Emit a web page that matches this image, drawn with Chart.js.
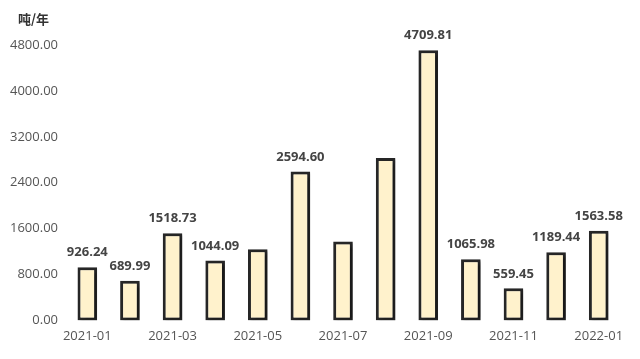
<!DOCTYPE html>
<html>
<head>
<meta charset="utf-8">
<script src="https://cdn.jsdelivr.net/npm/chart.js@4"></script>
<style>
  html, body { margin: 0; padding: 0; background: #fff; }
  #wrap { width: 640px; height: 359px; position: relative; }
</style>
</head>
<body>
<div id="wrap"><canvas id="c"></canvas></div>
<script>
// monthly output, tons per year
var months = ['2021-01', '2021-02', '2021-03', '2021-04', '2021-05', '2021-06', '2021-07',
  '2021-08', '2021-09', '2021-10', '2021-11', '2021-12', '2022-01'];
var values = [926.24, 689.99, 1518.73, 1044.09, 1240, 2594.60, 1375,
  2830, 4709.81, 1065.98, 559.45, 1189.44, 1563.58];
// which bars carry a value label in the original
var labelled = [true, true, true, true, false, true, false, false, true, true, true, true, true];
var yTicks = [0, 800, 1600, 2400, 3200, 4000, 4800];
var unitText = '吨/年';

var shadowPlugin = {
  id: 'barShadow',
  beforeDatasetDraw: function (chart) {
    var ctx = chart.ctx;
    ctx.save();
    ctx.shadowColor = 'rgba(0,0,0,0.4)';
    ctx.shadowBlur = 3;
    ctx.shadowOffsetX = 3;
    ctx.shadowOffsetY = 2;
  },
  afterDatasetDraw: function (chart) {
    chart.ctx.restore();
  }
};

var labelPlugin = {
  id: 'valueLabels',
  afterDatasetsDraw: function (chart) {
    var ctx = chart.ctx;
    var meta = chart.getDatasetMeta(0);
    ctx.save();
    ctx.font = 'bold 13px "Open Sans", sans-serif';
    ctx.fillStyle = '#444';
    ctx.textAlign = 'center';
    ctx.textBaseline = 'bottom';
    meta.data.forEach(function (bar, i) {
      if (!labelled[i]) return;
      ctx.fillText(values[i].toFixed(2), bar.x, bar.y - 8);
    });
    // unit label above the y axis
    ctx.font = 'bold 13px "Noto Sans CJK SC", serif';
    ctx.fillStyle = '#333';
    ctx.textAlign = 'left';
    ctx.textBaseline = 'middle';
    ctx.fillText(unitText, 18, 19);
    ctx.restore();
  }
};

new Chart(document.getElementById('c'), {
  type: 'bar',
  data: {
    labels: months,
    datasets: [{
      data: values,
      backgroundColor: '#fff2cc',
      borderColor: '#262626',
      borderWidth: 3,
      borderSkipped: false,
      categoryPercentage: 1,
      barPercentage: 0.46
    }]
  },
  options: {
    responsive: true,
    maintainAspectRatio: false,
    animation: false,
    layout: { padding: { top: 45, right: 20, left: 0, bottom: 15 } },
    plugins: {
      legend: { display: false },
      tooltip: { enabled: false }
    },
    scales: {
      x: {
        grid: { display: false },
        border: { display: false },
        ticks: {
          color: '#555',
          font: { family: '"Open Sans", sans-serif', size: 13 },
          maxRotation: 0,
          autoSkip: false,
          padding: 0,
          callback: function (v, i) { return i % 2 === 0 ? months[i] : ''; }
        }
      },
      y: {
        min: 0,
        max: 4800,
        afterBuildTicks: function (axis) {
          axis.ticks = yTicks.map(function (v) { return { value: v }; });
        },
        afterFit: function (axis) { axis.width = 66; },
        grid: { display: false },
        border: { display: false },
        ticks: {
          color: '#555',
          font: { family: '"Open Sans", sans-serif', size: 13 },
          padding: 0,
          callback: function (v) { return Number(v).toFixed(2); }
        }
      }
    }
  },
  plugins: [shadowPlugin, labelPlugin]
});
</script>
</body>
</html>
